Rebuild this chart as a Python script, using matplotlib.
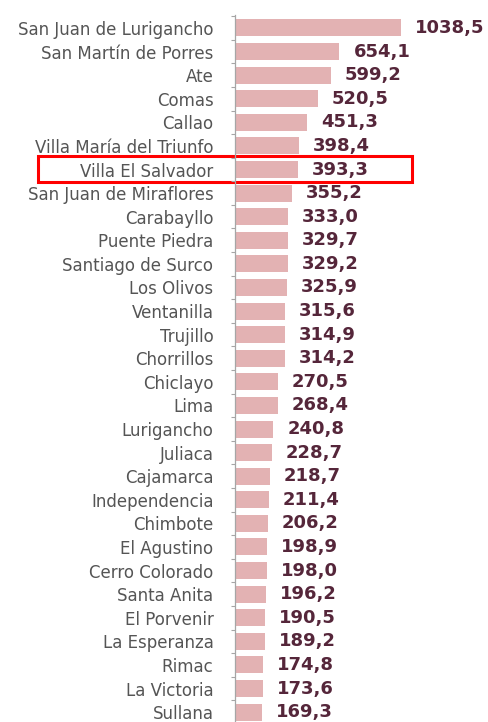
import matplotlib
matplotlib.use("Agg")
import matplotlib.pyplot as plt
from matplotlib.patches import Rectangle
import matplotlib.transforms as mtransforms

# districts and values (casos), top to bottom
districts = ["San Juan de Lurigancho", "San Martín de Porres", "Ate", "Comas",
             "Callao", "Villa María del Triunfo", "Villa El Salvador",
             "San Juan de Miraflores", "Carabayllo", "Puente Piedra",
             "Santiago de Surco", "Los Olivos", "Ventanilla", "Trujillo",
             "Chorrillos", "Chiclayo", "Lima", "Lurigancho", "Juliaca",
             "Cajamarca", "Independencia", "Chimbote", "El Agustino",
             "Cerro Colorado", "Santa Anita", "El Porvenir", "La Esperanza",
             "Rimac", "La Victoria", "Sullana"]
values = [1038.5, 654.1, 599.2, 520.5, 451.3, 398.4, 393.3, 355.2, 333.0,
          329.7, 329.2, 325.9, 315.6, 314.9, 314.2, 270.5, 268.4, 240.8,
          228.7, 218.7, 211.4, 206.2, 198.9, 198.0, 196.2, 190.5, 189.2,
          174.8, 173.6, 169.3]
highlight = "Villa El Salvador"

bar_color = "#e3b2b3"
value_color = "#55263a"
label_color = "#555555"

fig = plt.figure(figsize=(4.89, 7.22), dpi=100)
ax = fig.add_axes([235 / 489, 0.0, 254 / 489, 1 - 15 / 722])

pos = list(range(len(districts)))
ax.barh(pos, values, height=0.72, color=bar_color)

for p, v in zip(pos, values):
    txt = f"{v:.1f}".replace(".", ",")
    ax.annotate(txt, (v, p), xytext=(10, 0), textcoords="offset points",
                va="center", ha="left", fontsize=13, fontweight="bold",
                color=value_color, family="DejaVu Sans")

ax.set_xlim(0, 1590)
ax.set_ylim(len(districts) - 1 + 0.42, -0.55)

ax.set_yticks(pos)
ax.set_yticklabels(districts, fontsize=12, color=label_color)
ax.set_yticks([p - 0.5 for p in pos], minor=True)
ax.tick_params(axis="y", which="major", length=0, pad=15.5)
ax.tick_params(axis="y", which="minor", length=3, width=0.8, color="#a6a6a6")
ax.set_xticks([])

for s in ["top", "right", "bottom"]:
    ax.spines[s].set_visible(False)
ax.spines["left"].set_color("#a6a6a6")
ax.spines["left"].set_linewidth(0.9)

# red box around the highlighted row
i = districts.index(highlight)
trans = mtransforms.blended_transform_factory(ax.transAxes, ax.transData)
box = Rectangle((-0.776, i - 0.57), 1.473, 1.1, transform=trans,
                fill=False, edgecolor="#ff0000", linewidth=2.2, clip_on=False)
ax.add_patch(box)

fig.savefig("out.png", dpi=100, facecolor="white")
